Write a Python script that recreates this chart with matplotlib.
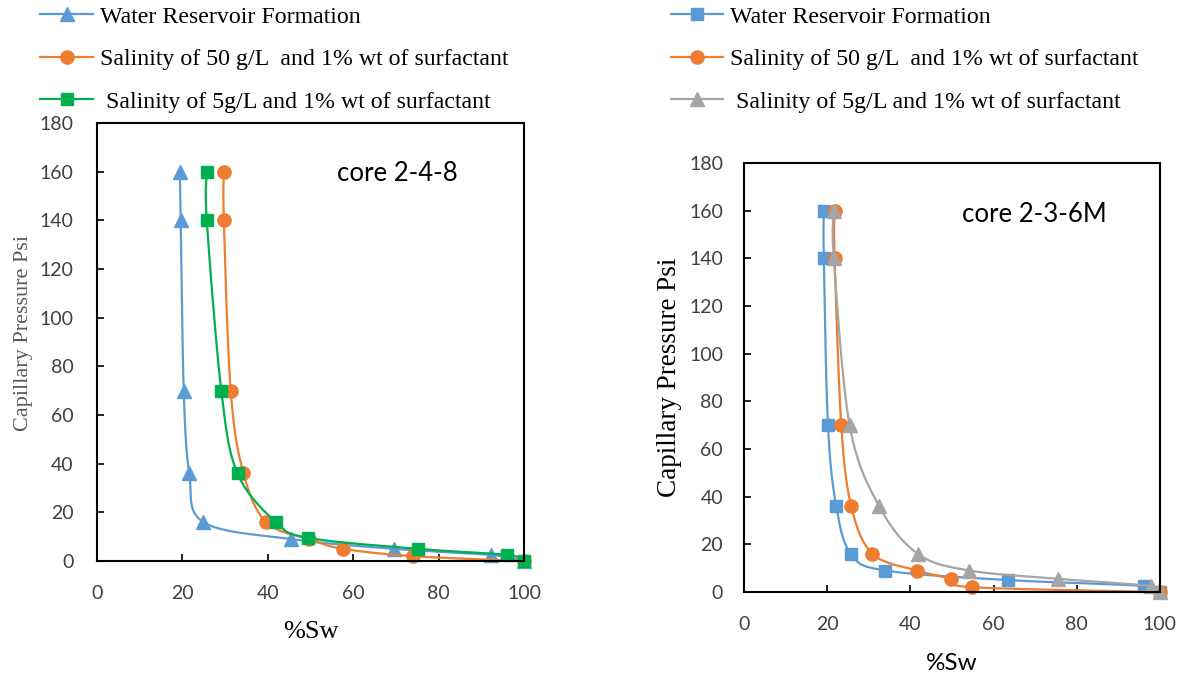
import numpy as np
import matplotlib.pyplot as plt

# core 2-4-8 (left)
sw_wrf_L = [19.4, 19.6, 20.3, 21.6, 24.9, 45.5, 69.5, 92.3, 100]
pc_wrf_L = [160, 140, 70, 36, 16, 9, 5, 2.5, 0]
sw_50_L = [29.7, 29.7, 31.3, 34.3, 39.6, 49.6, 57.7, 74.0, 100]
pc_50_L = [160, 140, 70, 36, 16, 9, 5, 2, 0]
sw_5_L = [25.7, 25.7, 29.1, 32.9, 41.9, 49.5, 75.1, 96.1, 100]
pc_5_L = [160, 140, 70, 36, 16, 9.5, 5, 2.5, 0]

# core 2-3-6M (right)
sw_wrf_R = [19.2, 19.2, 20.2, 22.2, 25.7, 34.0, 63.4, 96.2, 100]
pc_wrf_R = [160, 140, 70, 36, 16, 9, 5, 2.5, 0]
sw_50_R = [21.8, 21.8, 23.4, 25.8, 30.9, 41.7, 49.7, 54.8, 100]
pc_50_R = [160, 140, 70, 36, 16, 9, 5.5, 2, 0]
sw_5_R = [21.6, 21.6, 25.4, 32.5, 41.8, 54.2, 75.6, 97.8, 100]
pc_5_R = [160, 140, 70, 36, 16, 9, 5.5, 2.5, 0]

labels = ['Water Reservoir Formation',
          'Salinity of 50 g/L  and 1% wt of surfactant',
          ' Salinity of 5g/L and 1% wt of surfactant']

blue = '#5B9BD5'
orange = '#ED7D31'
green = '#00B050'
gray = '#A5A5A5'
tick_col = '#404040'


# excel style smoothed line (bezier through the points)
def smooth(x, y, sx, sy, n=40):
    P = np.column_stack([np.asarray(x, float) * sx, np.asarray(y, float) * sy])
    out = []
    for i in range(len(P) - 1):
        p0 = P[i - 1] if i > 0 else P[i]
        p1 = P[i]
        p2 = P[i + 1]
        p3 = P[i + 2] if i + 2 < len(P) else P[i + 1]
        c1 = p1 + (p2 - p0) / 6
        c2 = p2 - (p3 - p1) / 6
        t = np.linspace(0, 1, n)[:, None]
        out.append((1 - t)**3 * p1 + 3 * (1 - t)**2 * t * c1 + 3 * (1 - t) * t**2 * c2 + t**3 * p2)
    out = np.vstack(out)
    return out[:, 0] / sx, out[:, 1] / sy


def draw(ax, x, y, color, marker, label, ms):
    bb = ax.get_position()
    sx = bb.width * 1185 / 100
    sy = bb.height * 677 / 180
    xs, ys = smooth(x, y, sx, sy)
    ax.plot(xs, ys, color=color, lw=1.6, clip_on=False)
    ax.plot(x, y, ls='none', marker=marker, color=color, ms=ms, clip_on=False)
    h, = ax.plot([], [], color=color, lw=1.6, marker=marker, ms=ms, label=label)
    return h


def style(ax, pad_y, pad_x):
    ax.set_xlim(0, 100)
    ax.set_ylim(0, 180)
    ax.set_xticks(range(0, 101, 20))
    ax.set_yticks(range(0, 181, 20))
    ax.tick_params(direction='in', length=5, width=1.2, colors='black',
                   labelcolor=tick_col, labelsize=14)
    ax.tick_params(axis='y', pad=pad_y)
    ax.tick_params(axis='x', pad=pad_x)
    for lab in ax.get_xticklabels() + ax.get_yticklabels():
        lab.set_fontfamily('Lato')
    for s in ax.spines.values():
        s.set_linewidth(1.5)


fig = plt.figure(figsize=(11.85, 6.77), dpi=100)
axL = fig.add_axes([0.0819, 0.1713, 0.3603, 0.647])
axR = fig.add_axes([0.6278, 0.1256, 0.351, 0.6337])

hL = [draw(axL, sw_wrf_L, pc_wrf_L, blue, '^', labels[0], 10),
      draw(axL, sw_50_L, pc_50_L, orange, 'o', labels[1], 9.5),
      draw(axL, sw_5_L, pc_5_L, green, 's', labels[2], 8.5)]
hR = [draw(axR, sw_wrf_R, pc_wrf_R, blue, 's', labels[0], 8.5),
      draw(axR, sw_50_R, pc_50_R, orange, 'o', labels[1], 9.5),
      draw(axR, sw_5_R, pc_5_R, gray, '^', labels[2], 10)]

style(axL, 17, 17)
style(axR, 15, 17.5)

axL.text(0.562, 0.885, 'core 2-4-8', transform=axL.transAxes, fontsize=18.5,
         family='Lato', va='center')
axR.text(0.525, 0.88, 'core 2-3-6M', transform=axR.transAxes, fontsize=18.5,
         family='Lato', va='center')

axL.set_xlabel('%Sw', family='Liberation Serif', fontsize=19, labelpad=14)
axR.set_xlabel('%Sw', family='Lato', fontsize=17.5, labelpad=14)
axL.set_ylabel('Capillary Pressure Psi', family='Liberation Serif', fontsize=16,
               color='#595959')
axL.yaxis.set_label_coords(-0.15, 0.52)
axR.set_ylabel('Capillary Pressure Psi', family='Liberation Serif', fontsize=19.5,
               labelpad=5)

leg_kw = dict(loc='upper left', frameon=False, handlelength=2.2, handletextpad=0.3,
              labelspacing=0.87, borderaxespad=0, borderpad=0,
              prop={'family': 'Liberation Serif', 'size': 17.2})
fig.legend(handles=hL, bbox_to_anchor=(0.034, 0.991), **leg_kw)
fig.legend(handles=hR, bbox_to_anchor=(0.566, 0.991), **leg_kw)

fig.savefig('out.png', dpi=100)
